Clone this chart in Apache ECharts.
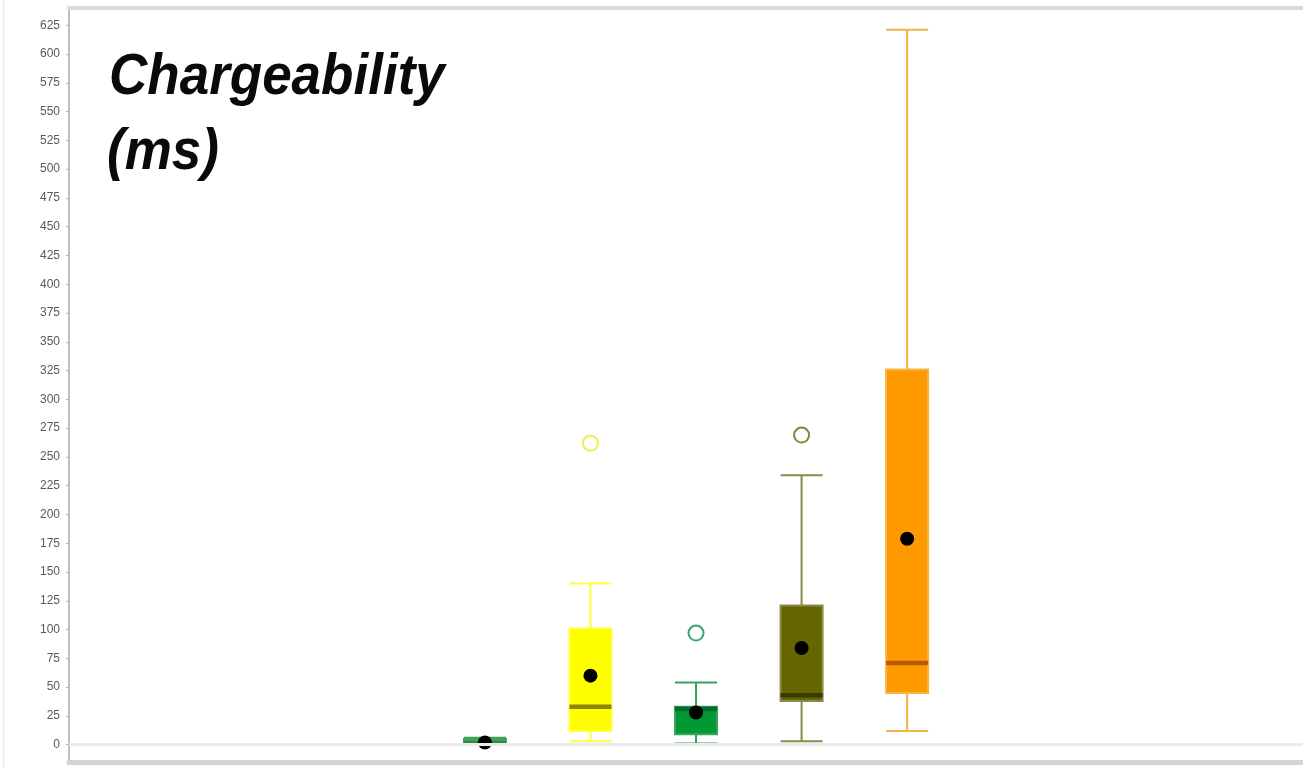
<!DOCTYPE html>
<html>
<head>
<meta charset="utf-8">
<title>Chargeability (ms)</title>
<script src="https://cdn.jsdelivr.net/npm/echarts@6/dist/echarts.min.js"></script>
<style>
  html, body { margin: 0; padding: 0; background: #ffffff; }
  #chart { width: 1303px; height: 768px; }
</style>
</head>
<body>
<div id="chart"></div>
<script>
// Slot of each box along the horizontal axis
const positions = [4, 5, 6, 7, 8];

// Five-number summaries per group
const mins    = [0,   3,   1,   3,   12];
const q1s     = [1,   12,  9,   38,  45];
const medians = [2,   33,  31,  43,  71];
const q3s     = [5,   101, 33,  121, 326];
const maxs    = [6,   140, 54,  234, 621];

// Group means (black dots)
const means   = [2,   60,  28,  84,  179];

// Outliers as [slot, value]
const outliers = [[5, 262], [6, 97], [7, 269]];

// Y-axis tick labels
const tickLabels = [0, 25, 50, 75, 100, 125, 150, 175, 200, 225, 250, 275, 300,
  325, 350, 375, 400, 425, 450, 475, 500, 525, 550, 575, 600, 625];

// Colours per group
const boxFill      = ['#8fd69a', '#ffff00', '#009933', '#666600', '#ff9900'];
const whiskerColor = ['#3fa455', '#ffff3a', '#35a35e', '#8a8a4e', '#f3b448'];
const medianColor  = ['#2f8a40', '#8f8500', '#006b2a', '#3a3a00', '#b85a00'];
const outlierColor = ['#3fa455', '#eeee55', '#3aa56a', '#85853a', '#f3b448'];

const chart = echarts.init(document.getElementById('chart'), null, { renderer: 'canvas' });

const boxData = positions.map((p, i) => ({
  value: [p, mins[i], q1s[i], medians[i], q3s[i], maxs[i]],
  itemStyle: { color: boxFill[i], borderColor: whiskerColor[i] }
}));

const medianData = positions.map((p, i) => ({
  value: [p, medians[i]],
  itemStyle: { color: medianColor[i] }
}));

const meanData = positions.map((p, i) => [p, means[i]]);

const outlierData = outliers.map(o => ({
  value: o,
  itemStyle: { borderColor: outlierColor[positions.indexOf(o[0])] }
}));

const titleFont = 'italic bold 53px "Liberation Sans", Arial, sans-serif';

const option = {
  backgroundColor: '#ffffff',
  animation: false,
  grid: { left: 69, right: -2, top: 8, bottom: 6, containLabel: false },
  xAxis: [
    {
      type: 'value',
      min: 0.06,
      max: 11.75,
      position: 'bottom',
      axisLine: { show: true, onZero: false, lineStyle: { color: '#d4d4d4', width: 5 } },
      axisTick: { show: false },
      axisLabel: { show: false },
      splitLine: { show: false }
    },
    {
      type: 'value',
      min: 0.06,
      max: 11.75,
      position: 'top',
      axisLine: { show: true, onZero: false, lineStyle: { color: '#dadada', width: 4 } },
      axisTick: { show: false },
      axisLabel: { show: false },
      splitLine: { show: false }
    }
  ],
  yAxis: {
    type: 'value',
    min: -15,
    max: 640,
    axisLine: { show: true, onZero: false, lineStyle: { color: '#a9a9a9', width: 1.5 } },
    axisTick: {
      show: true, length: 3, customValues: tickLabels,
      lineStyle: { color: '#b5b5b5' }
    },
    axisLabel: {
      show: true, customValues: tickLabels, margin: 9,
      color: '#5a5a5a', fontSize: 12, fontFamily: 'Liberation Sans, Arial, sans-serif'
    },
    splitLine: { show: false }
  },
  graphic: [
    {
      type: 'line',
      shape: { x1: 3.5, y1: 0, x2: 3.5, y2: 768 },
      style: { stroke: '#ececec', lineWidth: 1.5 },
      silent: true
    },
    {
      type: 'text',
      x: 109, y: 78, scaleY: 1.1,
      style: { text: 'Chargeability', font: titleFont, fill: '#0a0a0a', verticalAlign: 'middle' },
      silent: true
    },
    {
      type: 'text',
      x: 107, y: 153, scaleY: 1.1,
      style: { text: '(ms)', font: titleFont, fill: '#0a0a0a', verticalAlign: 'middle' },
      silent: true
    }
  ],
  series: [
    {
      // zero reference line
      type: 'line',
      data: [],
      z: 1,
      silent: true,
      markLine: {
        silent: true,
        symbol: ['none', 'none'],
        label: { show: false },
        lineStyle: { color: '#ebebeb', width: 3, type: 'solid' },
        data: [{ yAxis: 0 }]
      }
    },
    {
      type: 'boxplot',
      z: 2,
      boxWidth: [42, 42],
      itemStyle: { borderWidth: 2 },
      data: boxData,
      silent: true
    },
    {
      // median bars
      type: 'scatter',
      z: 3,
      symbol: 'rect',
      symbolSize: [42, 4.5],
      itemStyle: { opacity: 1 },
      data: medianData,
      silent: true
    },
    {
      // means
      type: 'scatter',
      z: 4,
      symbol: 'circle',
      symbolSize: 14,
      itemStyle: { color: '#000000', opacity: 1 },
      data: meanData,
      silent: true
    },
    {
      // outliers
      type: 'scatter',
      z: 4,
      symbol: 'circle',
      symbolSize: 15,
      itemStyle: { color: 'rgba(255,255,255,0)', borderWidth: 2, opacity: 1 },
      data: outlierData,
      silent: true
    }
  ]
};

chart.setOption(option);
</script>
</body>
</html>
